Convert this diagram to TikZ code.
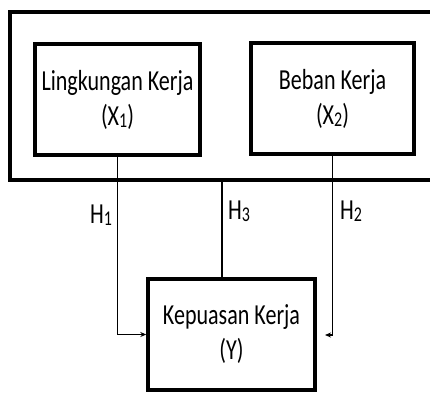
\documentclass[tikz,border=0pt]{standalone}
\usepackage{fontspec}
\setmainfont[FakeStretch=0.76]{Carlito}
\usetikzlibrary{arrows.meta}
% small index digit set near the baseline
\newcommand\lowidx[1]{\raisebox{-2pt}{\fontsize{21}{21}\selectfont #1}}
\begin{document}
\begin{tikzpicture}[x=1pt,y=-1pt,
  varbox/.style={draw, line width=3.4pt, align=center, inner sep=0pt,
    font=\fontsize{29}{35}\selectfont},
  conn/.style={draw, line width=1.5pt},
  tip/.style={-{Stealth[length=6pt,width=5pt]}},
  hlabel/.style={font=\fontsize{29}{30}\selectfont, inner sep=0pt}]
\useasboundingbox (0,0) rectangle (430,392);
\clip (0,0) rectangle (430,392);

% frame around the two independent variables
\node (grp) [draw, line width=4pt, minimum width=435pt, minimum height=168pt]
  at (227.5,96) {};

\node (x1) [varbox, minimum width=165pt, minimum height=111pt] at (117.5,99.5)
  {Lingkungan Kerja\\(X\lowidx{1})};
\node (x2) [varbox, minimum width=163pt, minimum height=111pt] at (332.5,98.5)
  {Beban Kerja\\(X\lowidx{2})};
\node (y) [varbox, minimum width=167pt, minimum height=111pt] at (231.5,334.5)
  {Kepuasan Kerja\\(Y)};

% paths of the hypotheses
\draw[conn, tip] (x1.south) |- (y.west);
\coordinate (h2end) at (325,335);
\draw[conn, tip] (x2.south) |- (h2end);
\coordinate (h3top) at (222,180);
\draw[conn] (h3top) -- (h3top |- y.north);

\node (h1) [hlabel] at (101,215) {H\lowidx{1}};
\node (h3) [hlabel] at (239,211) {H\lowidx{3}};
\node (h2) [hlabel] at (351,211) {H\lowidx{2}};
\end{tikzpicture}
\end{document}
